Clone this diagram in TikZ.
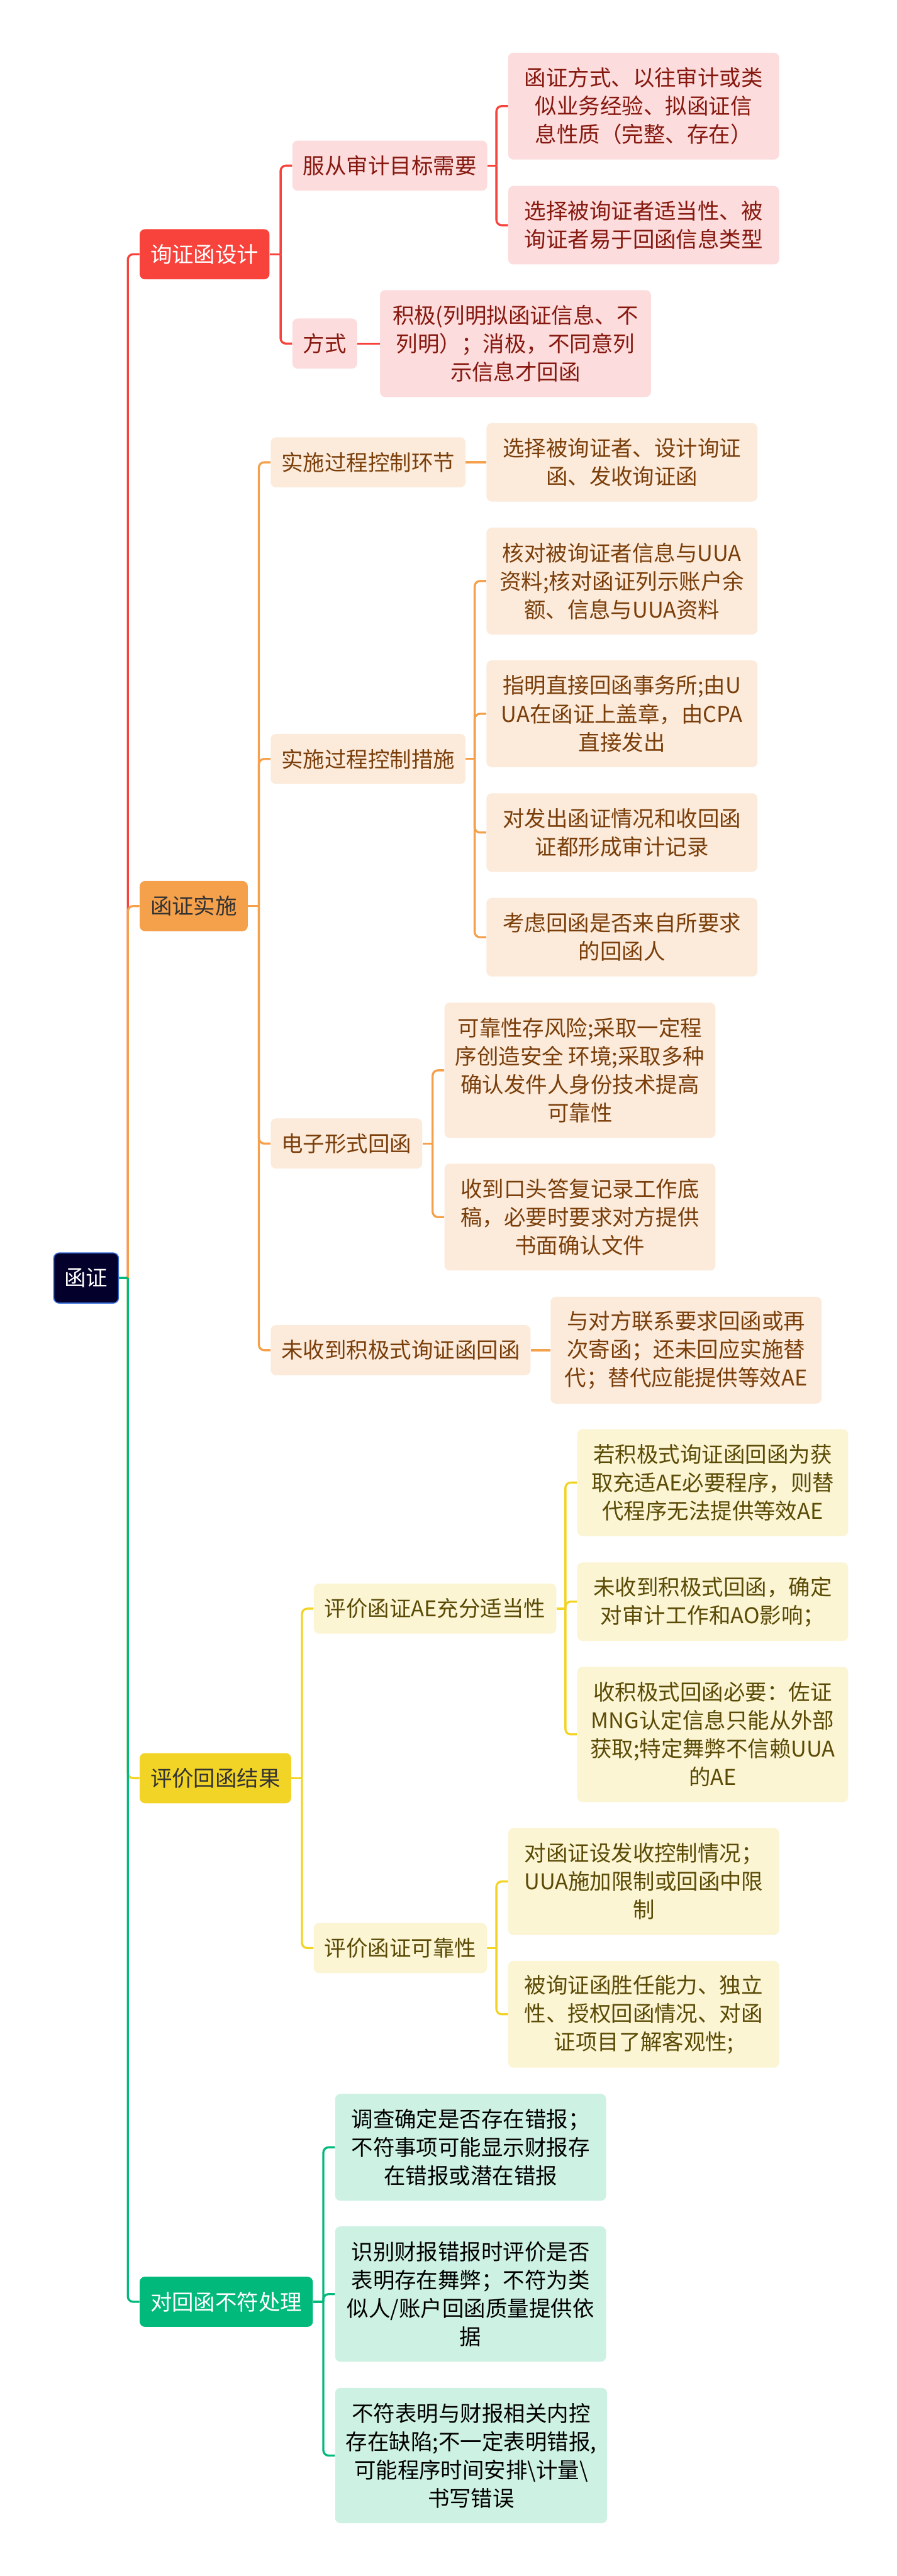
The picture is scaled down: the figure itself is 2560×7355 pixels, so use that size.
\documentclass[tikz,border=0pt]{standalone}
\usepackage{fontspec}
\setmainfont{Noto Sans CJK SC}
\usetikzlibrary{positioning,calc,backgrounds}
\definecolor{rootFill}{HTML}{03002B}
\definecolor{rootEdge}{HTML}{3A6FD8}
\definecolor{brRed}{HTML}{F7433B}
\definecolor{lfRed}{HTML}{FCDCDC}
\definecolor{txRed}{HTML}{86180F}
\definecolor{brOra}{HTML}{F5A04B}
\definecolor{lfOra}{HTML}{FCEBDB}
\definecolor{txOra}{HTML}{7A3E0A}
\definecolor{brYel}{HTML}{F2D426}
\definecolor{lfYel}{HTML}{FBF5D4}
\definecolor{txYel}{HTML}{5A4A05}
\definecolor{brGre}{HTML}{00B97B}
\definecolor{lfGre}{HTML}{CDF1E2}
\begin{document}
\begin{tikzpicture}[x=0.01cm,y=-0.01cm,
    noeud/.style   = {rounded corners=0.15cm,align=center,anchor=west,
                      inner xsep=0.305cm,inner ysep=0pt,minimum height=1.43cm,
                      font=\fontsize{17.6pt}{23pt}\selectfont},
    racine/.style  = {noeud,fill=rootFill,draw=rootEdge,line width=0.03cm,text=white},
    brancheR/.style= {noeud,fill=brRed,text=white},
    brancheO/.style= {noeud,fill=brOra,text=black!80},
    brancheY/.style= {noeud,fill=brYel,text=black!80},
    brancheG/.style= {noeud,fill=brGre,text=white},
    sousR/.style   = {noeud,fill=lfRed,text=txRed},
    sousO/.style   = {noeud,fill=lfOra,text=txOra},
    sousY/.style   = {noeud,fill=lfYel,text=txYel},
    sousG/.style   = {noeud,fill=lfGre,text=black},
    feuilleR/.style= {sousR,minimum width=7.73cm},
    feuilleO/.style= {sousO,minimum width=7.73cm},
    feuilleY/.style= {sousY,minimum width=7.73cm},
    feuilleG/.style= {sousG,minimum width=7.73cm},
    deux/.style    = {minimum height=2.24cm},
    trois/.style   = {minimum height=3.05cm},
    quatre/.style  = {minimum height=3.86cm},
    lienR/.style   = {draw=brRed,line width=0.06cm,rounded corners=0.15cm},
    lienO/.style   = {draw=brOra,line width=0.06cm,rounded corners=0.15cm},
    lienY/.style   = {draw=brYel,line width=0.06cm,rounded corners=0.15cm},
    lienG/.style   = {draw=brGre,line width=0.06cm,rounded corners=0.15cm},
  ]

  \useasboundingbox (0,0) rectangle (2560,7355);

  % ── Racine et branches principales ────────────────────────────────────────
  \node[racine]   (racine) at (152,3649) {函证};
  \node[brancheR] (r1) at (398,726)  {询证函设计};
  \node[brancheO] (o1) at (398,2587) {函证实施};
  \node[brancheY] (y1) at (398,5077) {评价回函结果};
  \node[brancheG] (g1) at (398,6572) {对回函不符处理};

  % ── Branche rouge ─────────────────────────────────────────────────────────
  \node[sousR] (r1a) at (834,473) {服从审计目标需要};
  \node[sousR] (r1b) at (834,981) {方式};
  \node[feuilleR,trois] (r1a1) at (1450,303)
       {函证方式、以往审计或类\\似业务经验、拟函证信\\息性质（完整、存在）};
  \node[feuilleR,deux] (r1a2) at (1450,643)
       {选择被询证者适当性、被\\询证者易于回函信息类型};
  \node[feuilleR,trois] (r1b1) at (1084,981)
       {积极(列明拟函证信息、不\\列明）；消极，不同意列\\示信息才回函};

  % ── Branche orange ────────────────────────────────────────────────────────
  \node[sousO] (o1a) at (772,1320) {实施过程控制环节};
  \node[sousO] (o1b) at (772,2167) {实施过程控制措施};
  \node[sousO] (o1c) at (772,3265) {电子形式回函};
  \node[sousO] (o1d) at (772,3855) {未收到积极式询证函回函};
  \node[feuilleO,deux] (o1a1) at (1388,1320)
       {选择被询证者、设计询证\\函、发收询证函};
  \node[feuilleO,trois] (o1b1) at (1388,1659)
       {核对被询证者信息与UUA\\资料;核对函证列示账户余\\额、信息与UUA资料};
  \node[feuilleO,trois] (o1b2) at (1388,2038)
       {指明直接回函事务所;由U\\UA在函证上盖章，由CPA\\直接发出};
  \node[feuilleO,deux] (o1b3) at (1388,2377)
       {对发出函证情况和收回函\\证都形成审计记录};
  \node[feuilleO,deux] (o1b4) at (1388,2676)
       {考虑回函是否来自所要求\\的回函人};
  \node[feuilleO,quatre] (o1c1) at (1268,3056)
       {可靠性存风险;采取一定程\\序创造安全 环境;采取多种\\确认发件人身份技术提高\\可靠性};
  \node[feuilleO,trois] (o1c2) at (1268,3475)
       {收到口头答复记录工作底\\稿，必要时要求对方提供\\书面确认文件};
  \node[feuilleO,trois] (o1d1) at (1571,3855)
       {与对方联系要求回函或再\\次寄函；还未回应实施替\\代；替代应能提供等效AE};

  % ── Branche jaune ─────────────────────────────────────────────────────────
  \node[sousY] (y1a) at (895,4593) {评价函证AE充分适当性};
  \node[sousY] (y1b) at (895,5562) {评价函证可靠性};
  \node[feuilleY,trois] (y1a1) at (1647,4233)
       {若积极式询证函回函为获\\取充适AE必要程序，则替\\代程序无法提供等效AE};
  \node[feuilleY,deux] (y1a2) at (1647,4573)
       {未收到积极式回函，确定\\对审计工作和AO影响；};
  \node[feuilleY,quatre] (y1a3) at (1647,4952)
       {收积极式回函必要：佐证\\MNG认定信息只能从外部\\获取;特定舞弊不信赖UUA\\的AE};
  \node[feuilleY,trois] (y1b1) at (1450,5372)
       {对函证设发收控制情况；\\UUA施加限制或回函中限\\制};
  \node[feuilleY,trois] (y1b2) at (1450,5751)
       {被询证函胜任能力、独立\\性、授权回函情况、对函\\证项目了解客观性;};

  % ── Branche verte ─────────────────────────────────────────────────────────
  \node[feuilleG,trois] (g1a) at (956,6131)
       {调查确定是否存在错报；\\不符事项可能显示财报存\\在错报或潜在错报};
  \node[feuilleG,quatre] (g1b) at (956,6550)
       {识别财报错报时评价是否\\表明存在舞弊；不符为类\\似人/账户回函质量提供依\\据};
  \node[feuilleG,quatre] (g1c) at (956,7011)
       {不符表明与财报相关内控\\存在缺陷;不一定表明错报,\\可能程序时间安排\textbackslash 计量\textbackslash\\书写错误};

  % ── Liens ─────────────────────────────────────────────────────────────────
  \begin{scope}[on background layer]
    \fill[white] (0,0) rectangle (2560,7355);

    \coordinate (racine-j) at ($(racine.east -| r1.west)+(-33,0)$);
    \draw[lienR] (racine-j) |- (r1.west);
    \draw[lienO] (racine-j) |- (o1.west);
    \draw[lienY] (racine-j) |- (y1.west);
    \draw[lienG] (racine-j) |- (g1.west);
    \draw[lienG] (racine.east) -- (racine-j);

    \coordinate (r1-j) at ($(r1.east -| r1a.west)+(-33,0)$);
    \draw[lienR] (r1.east) -- (r1-j);
    \foreach \c in {r1a,r1b} \draw[lienR] (r1-j) |- (\c.west);
    \coordinate (r1a-j) at ($(r1a.east -| r1a1.west)+(-33,0)$);
    \draw[lienR] (r1a.east) -- (r1a-j);
    \foreach \c in {r1a1,r1a2} \draw[lienR] (r1a-j) |- (\c.west);
    \draw[lienR] (r1b.east) -- (r1b1.west);

    \coordinate (o1-j) at ($(o1.east -| o1a.west)+(-33,0)$);
    \draw[lienO] (o1.east) -- (o1-j);
    \foreach \c in {o1a,o1b,o1c,o1d} \draw[lienO] (o1-j) |- (\c.west);
    \draw[lienO] (o1a.east) -- (o1a1.west);
    \coordinate (o1b-j) at ($(o1b.east -| o1b1.west)+(-33,0)$);
    \draw[lienO] (o1b.east) -- (o1b-j);
    \foreach \c in {o1b1,o1b2,o1b3,o1b4} \draw[lienO] (o1b-j) |- (\c.west);
    \coordinate (o1c-j) at ($(o1c.east -| o1c1.west)+(-33,0)$);
    \draw[lienO] (o1c.east) -- (o1c-j);
    \foreach \c in {o1c1,o1c2} \draw[lienO] (o1c-j) |- (\c.west);
    \draw[lienO] (o1d.east) -- (o1d1.west);

    \coordinate (y1-j) at ($(y1.east -| y1a.west)+(-33,0)$);
    \draw[lienY] (y1.east) -- (y1-j);
    \foreach \c in {y1a,y1b} \draw[lienY] (y1-j) |- (\c.west);
    \coordinate (y1a-j) at ($(y1a.east -| y1a1.west)+(-33,0)$);
    \draw[lienY] (y1a.east) -- (y1a-j);
    \foreach \c in {y1a1,y1a2,y1a3} \draw[lienY] (y1a-j) |- (\c.west);
    \coordinate (y1b-j) at ($(y1b.east -| y1b1.west)+(-33,0)$);
    \draw[lienY] (y1b.east) -- (y1b-j);
    \foreach \c in {y1b1,y1b2} \draw[lienY] (y1b-j) |- (\c.west);

    \coordinate (g1-j) at ($(g1.east -| g1a.west)+(-33,0)$);
    \draw[lienG] (g1.east) -- (g1-j);
    \foreach \c in {g1a,g1b,g1c} \draw[lienG] (g1-j) |- (\c.west);
  \end{scope}

\end{tikzpicture}
\end{document}
